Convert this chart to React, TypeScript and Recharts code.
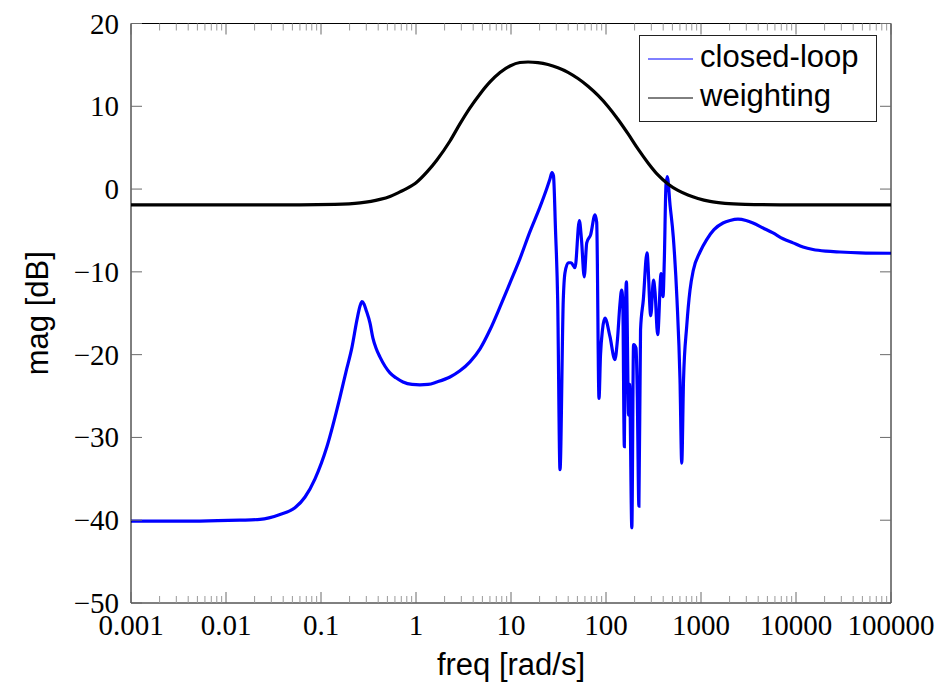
import React from 'react';
import { LineChart, Line, XAxis, YAxis, Legend } from 'recharts';

// ---- data ----
const closedLoopFreq = [
  0.001, 0.00532, 0.014, 0.0228, 0.037, 0.0532, 0.0679, 0.0865, 0.1156, 0.158,
  0.183, 0.212, 0.239, 0.258, 0.27, 0.284, 0.298, 0.328, 0.352, 0.379,
  0.418, 0.472, 0.532, 0.615, 0.729, 0.908, 1.1, 1.34, 1.66, 2.28,
  2.9, 3.7, 4.72, 6.01, 7.66, 9.76, 12.4, 15.8, 20.2, 23.9,
  25.7, 27.0, 28.0, 29.4, 31.0, 32.8, 35.5, 37.0, 40.1, 42.9,
  47.2, 52.4, 55.2, 59.0, 62.7, 69.0, 76.6, 79.8, 84.4, 87.5,
  91.8, 97.5, 110, 124, 132, 140, 146, 150, 156, 160,
  164, 173, 177, 187, 195, 207, 213, 222, 231, 247,
  270, 296, 316, 328, 350, 380, 398, 411, 428, 442,
  472, 511, 559, 601, 627, 655, 707, 766, 830, 976,
  1148, 1370, 1705, 2020, 2450, 2980, 3525, 4500, 5730, 7300,
  9300, 11850, 15100, 20700, 29000, 47200, 100000,
];
const closedLoopMag = [
  -40.1, -40.1, -40.0, -39.9, -39.3, -38.5, -37.2, -35.0, -31.1, -25.2,
  -22.1, -19.1, -15.8, -14.1, -13.6, -13.9, -14.6, -16.2, -18.0, -19.2,
  -20.3, -21.4, -22.2, -22.8, -23.3, -23.6, -23.65, -23.6, -23.3, -22.7,
  -21.95, -20.87, -19.3, -17.0, -14.23, -11.33, -8.43, -5.17, -2.15, 0.14,
  1.23, 2.0, 1.6, -4.9, -13.4, -33.9, -13.4, -10.1, -8.9, -8.9,
  -9.5, -3.8, -6.1, -10.6, -6.5, -5.5, -3.1, -4.0, -25.3, -20.1,
  -17.0, -15.6, -17.8, -20.6, -18.2, -14.0, -12.2, -13.4, -31.1, -15.8,
  -11.2, -27.3, -23.6, -40.9, -18.8, -19.2, -24.2, -38.3, -17.0, -13.4,
  -7.7, -15.3, -11.0, -12.4, -17.6, -10.2, -13.0, -8.6, 0.5, 1.5,
  -1.9, -5.8, -13.4, -23.0, -33.1, -23.0, -16.6, -12.2, -9.8, -7.6,
  -6.1, -4.9, -4.1, -3.8, -3.64, -3.8, -4.1, -4.7, -5.3, -6.0,
  -6.5, -7.0, -7.3, -7.5, -7.6, -7.7, -7.75,
];

const weightingFreq = [
  0.001, 0.01, 0.06, 0.14, 0.258, 0.418, 0.532, 0.679, 0.804, 1.024,
  1.306, 1.66, 2.28, 2.9, 3.7, 4.72, 6.01, 7.66, 9.76, 12.4,
  15.1, 19.2, 24.5, 31.2, 39.8, 50.7, 64.7, 82.4, 105, 134,
  171, 217, 277, 352, 449, 572, 729, 929, 1244, 1790,
  2904, 6790, 100000,
];
const weightingMag = [
  -1.9, -1.9, -1.9, -1.85, -1.67, -1.25, -0.89, -0.34, 0.08, 0.86,
  2.07, 3.52, 5.81, 7.87, 9.8, 11.49, 12.94, 14.08, 14.87, 15.29,
  15.35, 15.27, 15.04, 14.65, 14.1, 13.35, 12.42, 11.31, 9.98, 8.41,
  6.66, 4.85, 3.16, 1.71, 0.62, -0.16, -0.71, -1.13, -1.49, -1.73,
  -1.85, -1.9, -1.9,
];

const xMajorTicks = [0.001, 0.01, 0.1, 1, 10, 100, 1000, 10000, 100000];
const xTickLabels = ['0.001', '0.01', '0.1', '1', '10', '100', '1000', '10000', '100000'];
const yTicks = [-50, -40, -30, -20, -10, 0, 10, 20];
const yTickLabels = ['\u221250', '\u221240', '\u221230', '\u221220', '\u221210', '0', '10', '20'];

const seriesNames = ['closed-loop', 'weighting'];
const seriesColors = ['#0000ff', '#000000'];

// derived
const xMinorTicks: number[] = [];
xMajorTicks.slice(0, -1).forEach((d) => {
  for (let m = 2; m <= 9; m++) xMinorTicks.push(+(m * d).toPrecision(6));
});
const xAllTicks = [...xMajorTicks, ...xMinorTicks].sort((a, b) => a - b);

const closedLoopData = closedLoopFreq.map((f, i) => ({ f, db: closedLoopMag[i] }));
const weightingData = weightingFreq.map((f, i) => ({ f, db: weightingMag[i] }));

const SERIF = "'Liberation Serif', 'Times New Roman', serif";
const SANS = "'Liberation Sans', Arial, sans-serif";
const MAJOR_LEN = 11;
const MINOR_LEN = 7;

const XTick = (props: any) => {
  const { x, y, payload, side } = props;
  const idx = xMajorTicks.indexOf(payload.value);
  const major = idx >= 0;
  const len = major ? MAJOR_LEN : MINOR_LEN;
  const dir = side === 'top' ? 1 : -1;
  return (
    <g>
      <line x1={x} x2={x} y1={y} y2={y + dir * len} stroke={major ? '#6a6a6a' : '#9a9a9a'} strokeWidth={1} />
      {major && side !== 'top' && (
        <text x={x} y={y + 32} textAnchor="middle" fontFamily={SERIF} fontSize={29} fill="#000">
          {xTickLabels[idx]}
        </text>
      )}
    </g>
  );
};

const YTick = (props: any) => {
  const { x, y, payload, side } = props;
  const idx = yTicks.indexOf(payload.value);
  const dir = side === 'right' ? -1 : 1;
  return (
    <g>
      <line x1={x} x2={x + dir * MAJOR_LEN} y1={y} y2={y} stroke="#6a6a6a" strokeWidth={1} />
      {side !== 'right' && idx >= 0 && (
        <text x={x - 12} y={y + 10} textAnchor="end" fontFamily={SERIF} fontSize={29} fill="#000">
          {yTickLabels[idx]}
        </text>
      )}
    </g>
  );
};

const LegendBox = (props: any) => {
  const payload = props.payload || [];
  return (
    <svg width={238} height={88} style={{ display: 'block' }}>
      <rect x={0.5} y={0.5} width={237} height={86} fill="#fff" stroke="#222" strokeWidth={1} />
      {seriesNames.map((name, i) => {
        const entry = payload.find((p: any) => p.value === name);
        const color = entry ? entry.color : seriesColors[i];
        const ly = 24 + i * 39;
        return (
          <g key={name}>
            <line x1={9} x2={54} y1={ly} y2={ly} stroke={color} strokeWidth={1} />
            <text x={61} y={ly + 8} fontFamily={SANS} fontSize={31} fill="#000">
              {name}
            </text>
          </g>
        );
      })}
    </svg>
  );
};

const XLabel = (p: any) => {
  const vb = p.viewBox || { x: 131, y: 603, width: 760 };
  return (
    <text x={vb.x + vb.width / 2} y={vb.y + 72} textAnchor="middle" fontFamily={SANS} fontSize={31} fill="#000">
      freq [rad/s]
    </text>
  );
};

const YLabel = (p: any) => {
  const vb = p.viewBox || { x: 71, y: 23.5, width: 60, height: 580 };
  const cx = vb.x + (vb.width || 0) - 83;
  const cy = vb.y + vb.height / 2;
  return (
    <text x={cx} y={cy} transform={`rotate(-90, ${cx}, ${cy})`} textAnchor="middle" fontFamily={SANS} fontSize={31} fill="#000">
      mag [dB]
    </text>
  );
};

export default function App() {
  return (
    <div style={{ position: 'absolute', left: 0, top: 0, width: 942, height: 691, background: '#fff' }}>
      <LineChart width={942} height={691} margin={{ top: 3.5, right: 11, bottom: 58, left: 71 }}>
        <XAxis
          xAxisId={0}
          dataKey="f"
          type="number"
          scale="log"
          domain={[0.001, 100000]}
          allowDataOverflow
          ticks={xAllTicks}
          interval={0}
          height={30}
          tickSize={0}
          tickMargin={0}
          axisLine={{ stroke: '#000', strokeWidth: 1 }}
          tickLine={false}
          tick={<XTick side="bottom" />}
          label={<XLabel />}
        />
        <XAxis
          xAxisId="top"
          orientation="top"
          dataKey="f"
          type="number"
          scale="log"
          domain={[0.001, 100000]}
          allowDataOverflow
          ticks={xAllTicks}
          interval={0}
          height={20}
          tickSize={0}
          tickMargin={0}
          axisLine={{ stroke: '#000', strokeWidth: 1 }}
          tickLine={false}
          tick={<XTick side="top" />}
        />
        <YAxis
          yAxisId={0}
          type="number"
          domain={[-50, 20]}
          allowDataOverflow
          ticks={yTicks}
          interval={0}
          width={60}
          tickSize={0}
          tickMargin={0}
          axisLine={{ stroke: '#000', strokeWidth: 1 }}
          tickLine={false}
          tick={<YTick side="left" />}
          label={<YLabel />}
        />
        <YAxis
          yAxisId="right"
          orientation="right"
          type="number"
          domain={[-50, 20]}
          allowDataOverflow
          ticks={yTicks}
          interval={0}
          width={40}
          tickSize={0}
          tickMargin={0}
          axisLine={{ stroke: '#000', strokeWidth: 1 }}
          tickLine={false}
          tick={<YTick side="right" />}
        />
        <Line
          data={closedLoopData}
          dataKey="db"
          name={seriesNames[0]}
          type="monotone"
          stroke={seriesColors[0]}
          strokeWidth={3.2}
          dot={false}
          isAnimationActive={false}
        />
        <Line
          data={weightingData}
          dataKey="db"
          name={seriesNames[1]}
          type="monotone"
          stroke={seriesColors[1]}
          strokeWidth={3.2}
          dot={false}
          isAnimationActive={false}
        />
        <Legend
          layout="horizontal"
          verticalAlign="middle"
          align="center"
          wrapperStyle={{ position: 'absolute', left: 639, top: 35, width: 238, height: 88, margin: 0, padding: 0 }}
          content={<LegendBox />}
        />
      </LineChart>
    </div>
  );
}
